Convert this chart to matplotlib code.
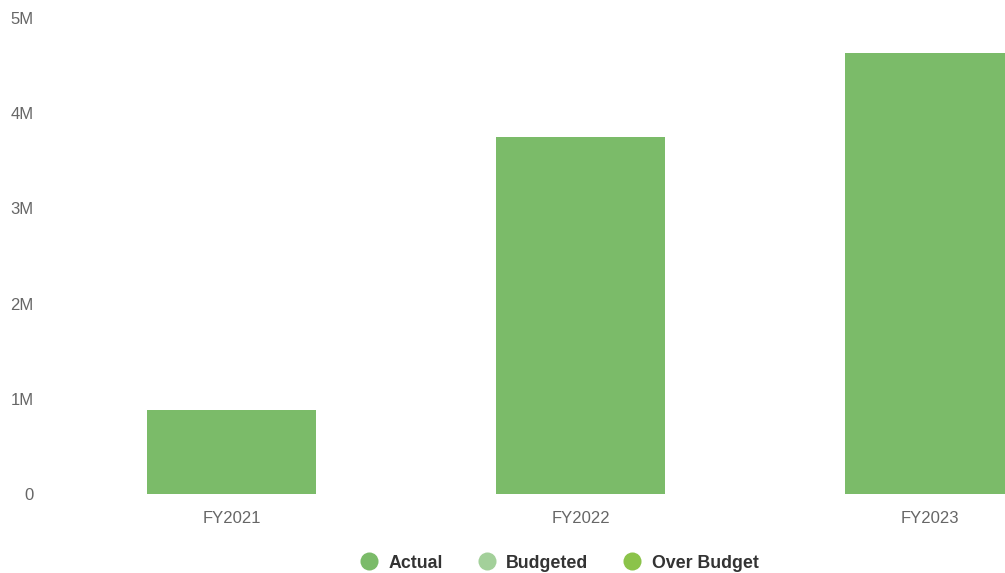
import numpy as np
import matplotlib
matplotlib.use('Agg')
import matplotlib.pyplot as plt
from matplotlib.lines import Line2D
from matplotlib.ticker import FuncFormatter

plt.rcParams['font.family'] = ['Liberation Sans', 'DejaVu Sans']

years = ['FY2021', 'FY2022', 'FY2023']
actual = [0.88e6, 3.75e6, 4.63e6]
legend_names = ['Actual', 'Budgeted', 'Over Budget']
legend_colors = ['#7bbb69', '#a3d09a', '#8bc34a']

W, H = 1005, 573
fig = plt.figure(figsize=(W/100, H/100), dpi=100)
# axes box in pixels: left 57, right 1005, bottom 494, top 18
ax = fig.add_axes([57/W, (H-494)/H, (1005-57)/W, (494-18)/H])

x = np.arange(len(years))
ax.bar(x, actual, width=0.484, color=legend_colors[0], zorder=2)

ax.set_xlim(-0.5, 2 + (1005-929.5)/349)
ax.set_ylim(0, 5e6)
ax.set_yticks(np.arange(0, 5.1e6, 1e6))
ax.yaxis.set_major_formatter(FuncFormatter(lambda v, p: '0' if v == 0 else f'{v/1e6:.0f}M'))
ax.set_xticks(x)
ax.set_xticklabels(years)
ax.tick_params(axis='y', length=0, pad=17, labelsize=12, labelcolor='#666666')
ax.tick_params(axis='x', length=0, pad=12, labelsize=12, labelcolor='#666666')
for s in ax.spines.values():
    s.set_visible(False)

handles = [Line2D([], [], marker='o', linestyle='none', markersize=13,
                  markerfacecolor=c, markeredgecolor='none') for c in legend_colors]
leg = fig.legend(handles, legend_names, loc='center', ncol=3,
                 bbox_to_anchor=(555/W, 1-563/H), frameon=False,
                 handletextpad=0.1, columnspacing=1.45,
                 prop={'weight': 'bold', 'size': 12.8})
for t in leg.get_texts():
    t.set_color('#333333')

fig.savefig('out.png', dpi=100)
